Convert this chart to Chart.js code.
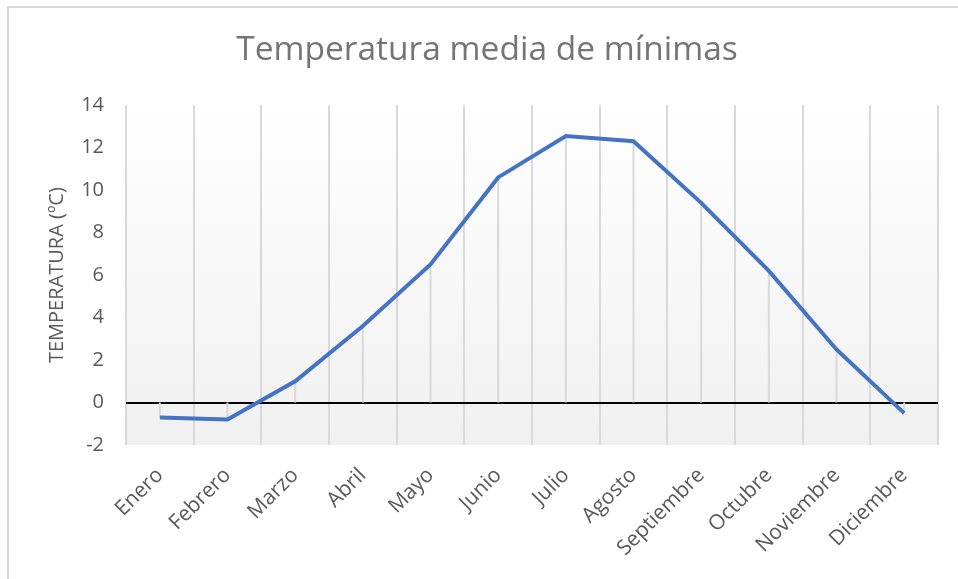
<!DOCTYPE html>
<html>
<head>
<meta charset="utf-8">
<script src="https://cdn.jsdelivr.net/npm/chart.js@4/dist/chart.umd.min.js"></script>
<style>
  body{margin:0;background:#fff;overflow:hidden;}
  #marco{position:absolute;left:7px;top:6px;width:1000px;height:700px;border-left:2px solid #d9d9d9;border-top:2px solid #d9d9d9;}
  #wrap{position:absolute;left:0;top:0;width:958px;height:579px;}
</style>
</head>
<body>
<div id="marco"></div>
<div id="wrap"><canvas id="grafico" width="958" height="579"></canvas></div>
<script>
const meses = ["Enero","Febrero","Marzo","Abril","Mayo","Junio","Julio","Agosto","Septiembre","Octubre","Noviembre","Diciembre"];
const minimas = [-0.7,-0.8,1.0,3.6,6.5,10.6,12.55,12.3,9.4,6.2,2.5,-0.5];
const ticksY = [-2,0,2,4,6,8,10,12,14];

// fondo degradado + líneas de caída hasta el 0
const fondoPlugin = {
  id:'fondo',
  beforeDraw(chart){
    const {ctx, chartArea:a} = chart;
    const g = ctx.createLinearGradient(0,a.top,0,a.bottom);
    g.addColorStop(0,'#ffffff');
    g.addColorStop(1,'#f0f0f0');
    ctx.save();
    ctx.fillStyle = g;
    ctx.fillRect(a.left,a.top,a.right-a.left,a.bottom-a.top);
    ctx.restore();
  },
  beforeDatasetsDraw(chart){
    const {ctx} = chart;
    const y0 = chart.scales.y.getPixelForValue(0);
    const meta = chart.getDatasetMeta(0);
    ctx.save();
    ctx.strokeStyle = '#d9d9d9';
    ctx.lineWidth = 2;
    meta.data.forEach(p=>{
      ctx.beginPath();
      ctx.moveTo(p.x,p.y);
      ctx.lineTo(p.x,y0);
      ctx.stroke();
    });
    ctx.restore();
  }
};

new Chart(document.getElementById("grafico"),{
  type:'line',
  data:{labels:meses, datasets:[{
    data:minimas,
    borderColor:'#4472C4',
    borderWidth:4,
    pointRadius:0,
    tension:0,
    fill:false
  }]},
  plugins:[fondoPlugin],
  options:{
    responsive:false,
    animation:false,
    layout:{padding:{left:16,right:0,top:0,bottom:0}},
    plugins:{
      legend:{display:false},
      tooltip:{enabled:false},
      title:{display:true, text:'Temperatura media de mínimas',
        color:'#757575', font:{family:'Open Sans', size:33.5, weight:'normal'},
        padding:{top:30,bottom:35}}
    },
    scales:{
      x:{
        offset:true,
        grid:{offset:true, color:'#d9d9d9', lineWidth:2, drawTicks:false},
        border:{display:false},
        ticks:{color:'#595959', font:{family:'Open Sans', size:21}, minRotation:45, maxRotation:45, padding:18},
        afterFit(s){ s.height = 134; }
      },
      y:{
        min:-2, max:14,
        afterBuildTicks(s){ s.ticks = ticksY.map(v=>({value:v})); },
        grid:{drawTicks:false,
          color:c=>c.tick && c.tick.value===0 ? '#000000' : 'rgba(0,0,0,0)',
          lineWidth:c=>c.tick && c.tick.value===0 ? 2 : 0},
        border:{display:false},
        ticks:{color:'#595959', font:{family:'Open Sans', size:20}, padding:22},
        title:{display:true, text:'TEMPERATURA (ºC)', color:'#595959',
          font:{family:'Open Sans', size:20}, padding:{top:29,bottom:0}},
        afterFit(s){ s.width = 110; }
      },
      // hueco a la derecha del área de trazado
      derecha:{
        position:'right',
        grid:{display:false},
        border:{display:false},
        ticks:{display:false},
        afterFit(s){ s.width = 20; }
      }
    }
  }
});
</script>
</body>
</html>
